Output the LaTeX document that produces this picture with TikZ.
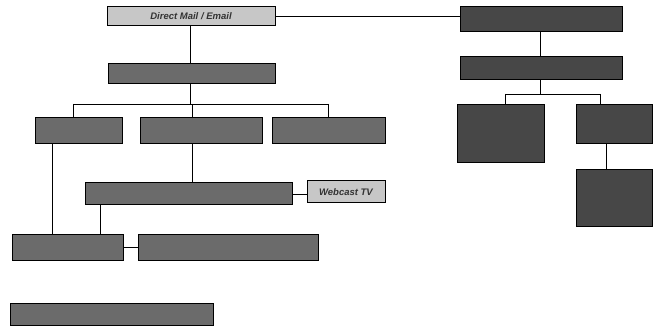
\documentclass[tikz,border=0pt]{standalone}
\usepackage{fontspec}
\setmainfont{Liberation Sans}
\begin{document}
\begin{tikzpicture}[x=1pt,y=-1pt,
  boxbase/.style={draw=black,line width=1pt,inner sep=0pt,anchor=center},
  lightbox/.style={boxbase,fill=black!22,font=\bfseries\itshape\fontsize{9.5}{11}\selectfont,text=black!80},
  midbox/.style={boxbase,fill=black!58},
  darkbox/.style={boxbase,fill=black!72},
  link/.style={draw=black,line width=0.9pt}]
\useasboundingbox (0,0) rectangle (668,328);
% left tree
\node[lightbox,minimum width=168pt,minimum height=19pt] (dm) at (191,16.5) {Direct Mail / Email};
\node[midbox,minimum width=167pt,minimum height=20pt] (cl) at (191.5,74) {};
\node[midbox,minimum width=87pt,minimum height=26pt] (a) at (78.5,131) {};
\node[midbox,minimum width=122pt,minimum height=26pt] (b) at (201,131) {};
\node[midbox,minimum width=113pt,minimum height=26pt] (c) at (328.5,131) {};
\node[midbox,minimum width=207pt,minimum height=22pt] (ref) at (188.5,194) {};
\node[lightbox,minimum width=78pt,minimum height=22pt] (web) at (346,192) {Webcast TV};
\node[midbox,minimum width=111pt,minimum height=25pt] (d) at (67.5,247.5) {};
\node[midbox,minimum width=180pt,minimum height=25pt] (e) at (228,247.5) {};
\node[midbox,minimum width=203pt,minimum height=22pt] (f) at (111.5,314) {};
% right tree
\node[darkbox,minimum width=162pt,minimum height=25pt] (tr) at (541,19.5) {};
\node[darkbox,minimum width=162pt,minimum height=23pt] (r2) at (541,68.5) {};
\node[darkbox,minimum width=87pt,minimum height=58pt] (rl) at (500.5,134) {};
\node[darkbox,minimum width=76pt,minimum height=39pt] (rr1) at (614,124.5) {};
\node[darkbox,minimum width=76pt,minimum height=57pt] (rr2) at (614,198.5) {};
% helper coordinates
\coordinate (lbar) at (0,104);
\coordinate (rbar) at (0,94);
\coordinate (xa) at (73,0);
\coordinate (xb) at (192,0);
\coordinate (xc) at (328,0);
\coordinate (xda) at (52,0);
\coordinate (xdr) at (100,0);
\coordinate (xrl) at (505,0);
\coordinate (xrr) at (600,0);
\coordinate (xrm) at (540,0);
\coordinate (xr2) at (606,0);
\coordinate (xdm) at (190,0);
% connectors left
\draw[link] (dm.east) -- (dm.east -| tr.west);
\draw[link] (dm.south -| xdm) -- (cl.north -| xdm);
\draw[link] (cl.south -| xdm) -- (lbar -| xdm);
\draw[link] (lbar -| xa) -- (lbar -| xc);
\draw[link] (lbar -| xa) -- (a.north -| xa);
\draw[link] (lbar -| xb) -- (b.north -| xb);
\draw[link] (lbar -| xc) -- (c.north -| xc);
\draw[link] (b.south -| xb) -- (ref.north -| xb);
\draw[link] (ref.east) -- (web.west |- ref.east);
\draw[link] (a.south -| xda) -- (d.north -| xda);
\draw[link] (ref.south -| xdr) -- (d.north -| xdr);
\draw[link] (d.east) -- (e.west);
% connectors right
\draw[link] (tr.south -| xrm) -- (r2.north -| xrm);
\draw[link] (r2.south -| xrm) -- (rbar -| xrm);
\draw[link] (rbar -| xrl) -- (rbar -| xrr);
\draw[link] (rbar -| xrl) -- (rl.north -| xrl);
\draw[link] (rbar -| xrr) -- (rr1.north -| xrr);
\draw[link] (rr1.south -| xr2) -- (rr2.north -| xr2);
\end{tikzpicture}
\end{document}
